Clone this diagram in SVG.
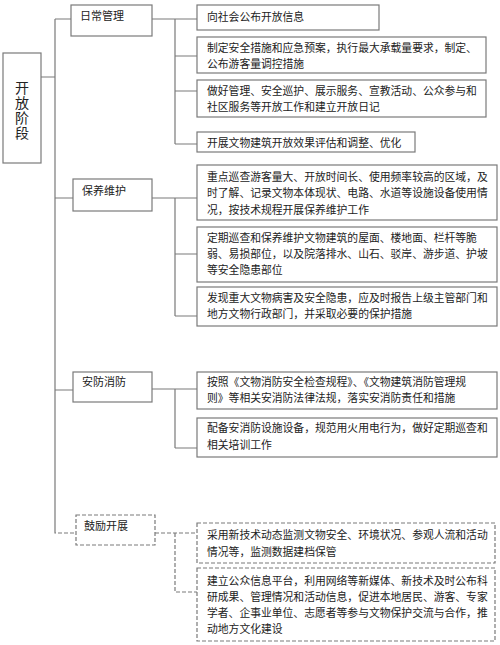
<svg xmlns="http://www.w3.org/2000/svg" width="500" height="645" viewBox="0 0 500 645">
<style>
.bx{fill:#fff;stroke:#7a7a7a;stroke-width:1.2}
.dbx{fill:#fff;stroke:#7a7a7a;stroke-width:1.2;stroke-dasharray:4 2}
.ln{fill:none;stroke:#7a7a7a;stroke-width:1.2}
.dln{fill:none;stroke:#7a7a7a;stroke-width:1.2;stroke-dasharray:4 2}
text{font-family:"Noto Sans CJK SC","Noto Sans",sans-serif;fill:#222;font-size:10.8px}
.l1{font-size:11px}
.root{font-size:14px;writing-mode:vertical-rl;letter-spacing:1px}
</style>
<rect width="500" height="645" fill="#fff"/>
<g id="connectors">
<path class="ln" d="M41 77H55M55 19V530M55 19H71M55 198H73M55 390H73"/>
<path class="dln" d="M55 530V533H76"/>
<path class="ln" d="M152 19H197M175 19V144M175 56H197M175 91H197M175 144H197"/>
<path class="ln" d="M152 198H197M175 198V316M175 254H197M175 316H197"/>
<path class="ln" d="M152 389H197M175 389V448M175 448H197"/>
<path class="dln" d="M155 533H197M175 533V592H197"/>
</g>
<g id="root">
<rect class="bx" x="3" y="53" width="38" height="110"/>
<text class="root" x="22" y="81">开放阶段</text>
</g>
<g id="n-richang">
<rect class="bx" x="71" y="5" width="81" height="31"/>
<text class="l1" x="80" y="20">日常管理</text>
</g>
<g id="n-baoyang">
<rect class="bx" x="73" y="179" width="79" height="32"/>
<text class="l1" x="82" y="195">保养维护</text>
</g>
<g id="n-anfang">
<rect class="bx" x="73" y="372" width="79" height="30"/>
<text class="l1" x="82" y="386">安防消防</text>
</g>
<g id="n-guli">
<rect class="dbx" x="76" y="515" width="79" height="30"/>
<text class="l1" x="84" y="530">鼓励开展</text>
</g>
<g id="n-1a">
<rect class="bx" x="197" y="5" width="182" height="25"/>
<text x="207" y="21">向社会公布开放信息</text>
</g>
<g id="n-1b">
<rect class="bx" x="197" y="37" width="289" height="36"/>
<text x="207" y="52">制定安全措施和应急预案，执行最大承载量要求，制定、</text>
<text x="207" y="68">公布游客量调控措施</text>
</g>
<g id="n-1c">
<rect class="bx" x="197" y="80" width="289" height="37"/>
<text x="207" y="95">做好管理、安全巡护、展示服务、宣教活动、公众参与和</text>
<text x="207" y="111">社区服务等开放工作和建立开放日记</text>
</g>
<g id="n-1d">
<rect class="bx" x="197" y="132" width="218" height="20"/>
<text x="207" y="147">开展文物建筑开放效果评估和调整、优化</text>
</g>
<g id="n-2a">
<rect class="bx" x="197" y="165" width="300" height="55"/>
<text x="207" y="181">重点巡查游客量大、开放时间长、使用频率较高的区域，及</text>
<text x="207" y="197">时了解、记录文物本体现状、电路、水道等设施设备使用情</text>
<text x="207" y="214">况，按技术规程开展保养维护工作</text>
</g>
<g id="n-2b">
<rect class="bx" x="197" y="227" width="300" height="55"/>
<text x="207" y="242">定期巡查和保养维护文物建筑的屋面、楼地面、栏杆等脆</text>
<text x="207" y="258">弱、易损部位，以及院落排水、山石、驳岸、游步道、护坡</text>
<text x="207" y="274">等安全隐患部位</text>
</g>
<g id="n-2c">
<rect class="bx" x="197" y="287" width="300" height="39"/>
<text x="207" y="302">发现重大文物病害及安全隐患，应及时报告上级主管部门和</text>
<text x="207" y="318">地方文物行政部门，并采取必要的保护措施</text>
</g>
<g id="n-3a">
<rect class="bx" x="197" y="372" width="300" height="37"/>
<text x="207" y="386">按照《文物消防安全检查规程》、《文物建筑消防管理规</text>
<text x="207" y="402">则》等相关安消防法律法规，落实安消防责任和措施</text>
</g>
<g id="n-3b">
<rect class="bx" x="197" y="418" width="300" height="39"/>
<text x="207" y="432">配备安消防设施设备，规范用火用电行为，做好定期巡查和</text>
<text x="207" y="449">相关培训工作</text>
</g>
<g id="n-4a">
<rect class="dbx" x="197" y="523" width="298" height="40"/>
<text x="207" y="539">采用新技术动态监测文物安全、环境状况、参观人流和活动</text>
<text x="207" y="556">情况等，监测数据建档保管</text>
</g>
<g id="n-4b">
<rect class="dbx" x="197" y="568" width="298" height="73"/>
<text x="207" y="585">建立公众信息平台，利用网络等新媒体、新技术及时公布科</text>
<text x="207" y="601">研成果、管理情况和活动信息，促进本地居民、游客、专家</text>
<text x="207" y="617">学者、企事业单位、志愿者等参与文物保护交流与合作，推</text>
<text x="207" y="633">动地方文化建设</text>
</g>
</svg>
